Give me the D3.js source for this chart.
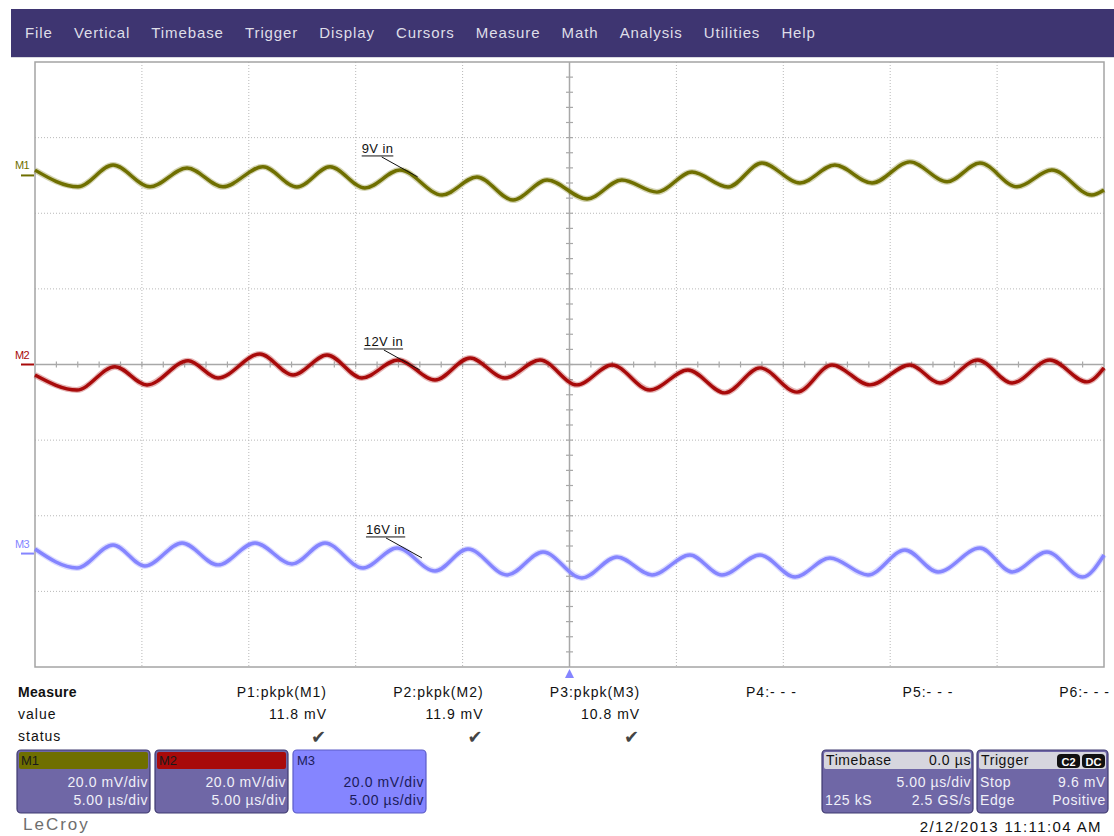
<!DOCTYPE html>
<html><head><meta charset="utf-8">
<script src="https://cdn.jsdelivr.net/npm/d3@7"></script>
<style>
body{margin:0;background:#fff}
svg{display:block;font-family:"Liberation Sans",Arial,sans-serif}
</style>
</head><body>
<svg id="c" width="1114" height="836"></svg>
<script>
// ---------------- DATA ----------------
const menuItems = ["File","Vertical","Timebase","Trigger","Display","Cursors","Measure","Math","Analysis","Utilities","Help"];
const traceNames = ["M1","M2","M3"];
const traceOffsets = [50, 0, -50];            // mV (screen offset of each trace)
const traceLabels = ["9V in","12V in","16V in"];

// M1 (9V in) — extrema: time (µs), ripple (mV)
const m1Time   = [-25,-22.99,-21.35,-19.62,-17.89,-16.21,-14.34,-12.75,-11.20,-9.57,-7.93,-5.96,-4.33,-2.64,-1.05,0.82,2.45,4.09,5.73,7.41,9.0,10.78,12.41,14.15,15.92,17.66,19.2,20.93,22.56,24.43,25];
const m1Values = [1.4,-3.0,2.75,-3.0,1.96,-3.0,2.3,-3.07,2.3,-3.33,1.43,-5.18,-0.42,-6.5,-1.2,-6.24,-1.2,-4.4,0.9,-3.07,3.28,-2.0,2.75,-2.0,3.6,-1.67,3.28,-3.0,1.43,-5.18,-3.86];

// M2 (12V in)
const m2Time   = [-25,-23.04,-21.26,-19.76,-17.84,-16.44,-14.48,-12.93,-11.34,-9.71,-8.02,-6.29,-4.65,-3.02,-1.38,0.35,1.99,3.76,5.54,7.27,8.91,10.64,12.28,14.05,15.92,17.33,19.1,20.7,22.47,24.2,25];
const m2Values = [-2.78,-6.74,-0.58,-5.42,1.0,-3.57,2.78,-2.78,2.5,-3.57,1.19,-4.1,1.72,-3.57,1.19,-5.4,-0.13,-6.74,-1.45,-7.5,-0.9,-7.3,-0.13,-5.4,-0.13,-4.9,1.19,-4.9,1.19,-4.6,-0.9];

// M3 (16V in)
const m3Time   = [-25,-23.04,-21.35,-19.86,-18.12,-16.44,-14.71,-12.98,-11.44,-9.66,-8.07,-6.29,-4.75,-2.92,-1.24,0.58,2.22,3.86,5.63,7.13,8.91,10.55,12.18,13.96,15.69,17.24,19.2,20.7,22.33,24.0,25];
const m3Values = [1.2,-3.8,2.27,-3.28,2.8,-3.0,2.8,-2.75,2.8,-3.8,1.48,-4.6,1.2,-5.66,0.42,-6.45,-0.9,-5.66,-0.37,-5.66,-0.37,-6.2,-1.16,-5.66,0.95,-4.87,1.48,-4.87,0.42,-6.2,-0.37];

// annotation anchor points on each trace (time µs, ripple mV)
const labelTimes  = [-7.1, -7.0, -6.9];
const labelValues = [-0.4, -1.45, -1.16];

const measureHeaders = ["P1:pkpk(M1)","P2:pkpk(M2)","P3:pkpk(M3)","P4:- - -","P5:- - -","P6:- - -"];
const measureValues  = ["11.8 mV","11.9 mV","10.8 mV","","",""];
const measureStatus  = [true,true,true,false,false,false];

const channelVdiv = ["20.0 mV/div","20.0 mV/div","20.0 mV/div"];
const channelTdiv = ["5.00 µs/div","5.00 µs/div","5.00 µs/div"];

const timebaseTexts = ["Timebase","0.0 µs","5.00 µs/div","125 kS","2.5 GS/s"];
const triggerTexts  = ["Trigger","C2","DC","Stop","9.6 mV","Edge","Positive"];
const timestamp = "2/12/2013 11:11:04 AM";
const brand = "LeCroy";

// ---------------- STYLE / LAYOUT ----------------
const colors = ["#6f6f00","#a80a0a","#8585ff"];
const svg = d3.select("#c");
const plot = {left:35, right:1104, top:62, bottom:667};
const x = d3.scaleLinear().domain([-25,25]).range([plot.left, plot.right]);
const y = d3.scaleLinear().domain([-80,80]).range([plot.bottom, plot.top]);

// menu bar
svg.append("rect").attr("x",11).attr("y",9).attr("width",1103).attr("height",48).attr("fill","#3e3571");
svg.append("line").attr("x1",11).attr("x2",1114).attr("y1",57.5).attr("y2",57.5).attr("stroke","#d8d8e0");
{
  let mx = 25;
  const mg = svg.append("g");
  menuItems.forEach(m=>{
    const t = mg.append("text").attr("x",mx).attr("y",38).text(m)
      .attr("font-size",15).attr("letter-spacing",0.9).attr("fill","#dedee8");
    mx += t.node().getComputedTextLength() + 21.1;
  });
}

// grid
const grid = svg.append("g");
grid.selectAll(".vg").data(d3.range(-20,25,5).filter(d=>d!==0)).join("line")
  .attr("x1",d=>x(d)).attr("x2",d=>x(d)).attr("y1",plot.top).attr("y2",plot.bottom)
  .attr("stroke","#b8b8b8").attr("stroke-dasharray","1,2");
grid.selectAll(".hg").data(d3.range(-60,80,20).filter(d=>d!==0)).join("line")
  .attr("x1",plot.left).attr("x2",plot.right).attr("y1",d=>y(d)).attr("y2",d=>y(d))
  .attr("stroke","#b8b8b8").attr("stroke-dasharray","1,2");
grid.append("rect").attr("x",plot.left).attr("y",plot.top)
  .attr("width",plot.right-plot.left).attr("height",plot.bottom-plot.top)
  .attr("fill","none").attr("stroke","#a4a4a4").attr("stroke-width",1.5);
// center axes
grid.append("line").attr("x1",x(0)).attr("x2",x(0)).attr("y1",plot.top).attr("y2",plot.bottom)
  .attr("stroke","#a8a8a8").attr("stroke-width",1.5);
grid.append("line").attr("x1",plot.left).attr("x2",plot.right).attr("y1",y(0)).attr("y2",y(0))
  .attr("stroke","#a8a8a8").attr("stroke-width",1.5);
grid.selectAll(".xt").data(d3.range(-24,25,1)).join("line")
  .attr("x1",d=>x(d)).attr("x2",d=>x(d)).attr("y1",y(0)-3).attr("y2",y(0)+3)
  .attr("stroke","#a8a8a8").attr("stroke-width",1.2);
grid.selectAll(".yt").data(d3.range(-76,80,4)).join("line")
  .attr("y1",d=>y(d)).attr("y2",d=>y(d)).attr("x1",x(0)-3.5).attr("x2",x(0)+3.5)
  .attr("stroke","#a8a8a8").attr("stroke-width",1.2);

// traces
const series = [
  {t:m1Time, v:m1Values},
  {t:m2Time, v:m2Values},
  {t:m3Time, v:m3Values}
];
series.forEach((s,i)=>{
  const pts = s.t.map((t,j)=>[t, s.v[j] + traceOffsets[i]]);
  const line = d3.line().x(d=>x(d[0])).y(d=>y(d[1])).curve(d3.curveMonotoneX);
  svg.append("path").attr("d",line(pts)).attr("fill","none")
    .attr("stroke",colors[i]).attr("stroke-width",6).attr("opacity",0.3);
  svg.append("path").attr("d",line(pts)).attr("fill","none")
    .attr("stroke",colors[i]).attr("stroke-width",3.4).attr("stroke-linejoin","round");
  // left marker
  const oy = y(traceOffsets[i]);
  svg.append("line").attr("x1",21).attr("x2",34).attr("y1",oy).attr("y2",oy)
    .attr("stroke",colors[i]).attr("stroke-width",2);
  svg.append("text").attr("x",15).attr("y",oy-6).text(traceNames[i])
    .attr("font-size",11).attr("letter-spacing",-0.6).attr("fill",colors[i]);
  // annotation
  const ax = x(labelTimes[i]), ay = y(labelValues[i] + traceOffsets[i]);
  const tx = ax - 56, ty = ay - 24;
  const lab = svg.append("text").attr("x",tx).attr("y",ty).text(traceLabels[i])
    .attr("font-size",13).attr("letter-spacing",0.4).attr("fill","#111");
  const lw = lab.node().getComputedTextLength();
  svg.append("line").attr("x1",tx).attr("x2",tx+lw).attr("y1",ty+3).attr("y2",ty+3)
    .attr("stroke","#111").attr("stroke-width",1);
  svg.append("line").attr("x1",tx+20).attr("x2",ax).attr("y1",ty+4).attr("y2",ay)
    .attr("stroke","#111").attr("stroke-width",1);
});

// trigger position marker
svg.append("path").attr("d",`M${x(0)},${plot.bottom+2} l-4.5,9 l9,0 z`).attr("fill","#8585ff");

// measure table
const mt = svg.append("g").attr("font-size",14).attr("letter-spacing",1).attr("fill","#111");
mt.append("text").attr("x",18).attr("y",697).attr("font-weight","bold").attr("letter-spacing",0.3).text("Measure");
mt.append("text").attr("x",18).attr("y",719).text("value");
mt.append("text").attr("x",18).attr("y",741).text("status");
const colRight = d3.scaleLinear().domain([0,5]).range([327,1110]);
measureHeaders.forEach((h,i)=>{
  mt.append("text").attr("x",colRight(i)).attr("y",697).attr("text-anchor","end").text(h);
  if (measureValues[i]) mt.append("text").attr("x",colRight(i)).attr("y",719).attr("text-anchor","end").text(measureValues[i]);
  if (measureStatus[i]) mt.append("text").attr("x",colRight(i)-1).attr("y",743).attr("text-anchor","end")
    .attr("font-family","DejaVu Sans").attr("font-size",18).attr("letter-spacing",0).attr("fill","#444").text("\u2714");
});

// channel boxes
const boxX = [17,155,293];
traceNames.forEach((n,i)=>{
  const bx = boxX[i], bw = 133, by = 750, bh = 63;
  const isM3 = i===2;
  svg.append("rect").attr("x",bx).attr("y",by).attr("width",bw).attr("height",bh).attr("rx",4)
    .attr("fill", isM3 ? "#8585ff" : "#6f67a6").attr("stroke", isM3 ? "#5c5cc8" : "#3f3a70").attr("stroke-width",1.2);
  if (!isM3) svg.append("rect").attr("x",bx+2).attr("y",by+2).attr("width",bw-4).attr("height",17).attr("rx",2)
    .attr("fill",colors[i]);
  const tc = isM3 ? "#1c1c5a" : "#f0f0f8";
  svg.append("text").attr("x",bx+4).attr("y",by+15).attr("font-size",13).attr("fill", isM3 ? "#1c1c5a" : "#1a1a1a").text(n);
  svg.append("text").attr("x",bx+bw-2).attr("y",by+37).attr("text-anchor","end").attr("font-size",14)
    .attr("letter-spacing",0.6).attr("fill",tc).text(channelVdiv[i]);
  svg.append("text").attr("x",bx+bw-2).attr("y",by+55).attr("text-anchor","end").attr("font-size",14)
    .attr("letter-spacing",0.6).attr("fill",tc).text(channelTdiv[i]);
});

// timebase box
{
  const bx=822,bw=151,by=750,bh=63;
  svg.append("rect").attr("x",bx).attr("y",by).attr("width",bw).attr("height",bh).attr("rx",4)
    .attr("fill","#6f67a6").attr("stroke","#3f3a70").attr("stroke-width",1.2);
  svg.append("rect").attr("x",bx+2).attr("y",by+2).attr("width",bw-4).attr("height",17).attr("rx",2).attr("fill","#d6d6de");
  const g = svg.append("g").attr("font-size",14).attr("letter-spacing",0.6);
  g.append("text").attr("x",bx+4).attr("y",by+15).attr("fill","#111").text(timebaseTexts[0]);
  g.append("text").attr("x",bx+bw-2).attr("y",by+15).attr("text-anchor","end").attr("fill","#111").text(timebaseTexts[1]);
  g.append("text").attr("x",bx+bw-2).attr("y",by+37).attr("text-anchor","end").attr("fill","#f0f0f8").text(timebaseTexts[2]);
  g.append("text").attr("x",bx+3).attr("y",by+55).attr("fill","#f0f0f8").text(timebaseTexts[3]);
  g.append("text").attr("x",bx+bw-2).attr("y",by+55).attr("text-anchor","end").attr("fill","#f0f0f8").text(timebaseTexts[4]);
}
// trigger box
{
  const bx=977,bw=131,by=750,bh=63;
  svg.append("rect").attr("x",bx).attr("y",by).attr("width",bw).attr("height",bh).attr("rx",4)
    .attr("fill","#6f67a6").attr("stroke","#3f3a70").attr("stroke-width",1.2);
  svg.append("rect").attr("x",bx+2).attr("y",by+2).attr("width",bw-4).attr("height",17).attr("rx",2).attr("fill","#d6d6de");
  const g = svg.append("g").attr("font-size",14).attr("letter-spacing",0.6);
  g.append("text").attr("x",bx+4).attr("y",by+15).attr("fill","#111").text(triggerTexts[0]);
  [[1057,triggerTexts[1]],[1082,triggerTexts[2]]].forEach(([bxx,t])=>{
    svg.append("rect").attr("x",bxx).attr("y",by+4).attr("width",23).attr("height",14).attr("rx",4).attr("fill","#111");
    svg.append("text").attr("x",bxx+11.5).attr("y",by+15.5).attr("text-anchor","middle").attr("font-size",11)
      .attr("font-weight","bold").attr("fill","#fff").text(t);
  });
  g.append("text").attr("x",bx+3).attr("y",by+37).attr("fill","#f0f0f8").text(triggerTexts[3]);
  g.append("text").attr("x",bx+bw-2).attr("y",by+37).attr("text-anchor","end").attr("fill","#f0f0f8").text(triggerTexts[4]);
  g.append("text").attr("x",bx+3).attr("y",by+55).attr("fill","#f0f0f8").text(triggerTexts[5]);
  g.append("text").attr("x",bx+bw-2).attr("y",by+55).attr("text-anchor","end").attr("fill","#f0f0f8").text(triggerTexts[6]);
}

// footer
svg.append("text").attr("x",23).attr("y",830).attr("font-size",17).attr("letter-spacing",2)
  .attr("fill","#6e6e6e").text(brand);
svg.append("text").attr("x",1102).attr("y",832).attr("text-anchor","end").attr("font-size",15)
  .attr("letter-spacing",1.4).attr("fill","#111").text(timestamp);
</script>
</body></html>
